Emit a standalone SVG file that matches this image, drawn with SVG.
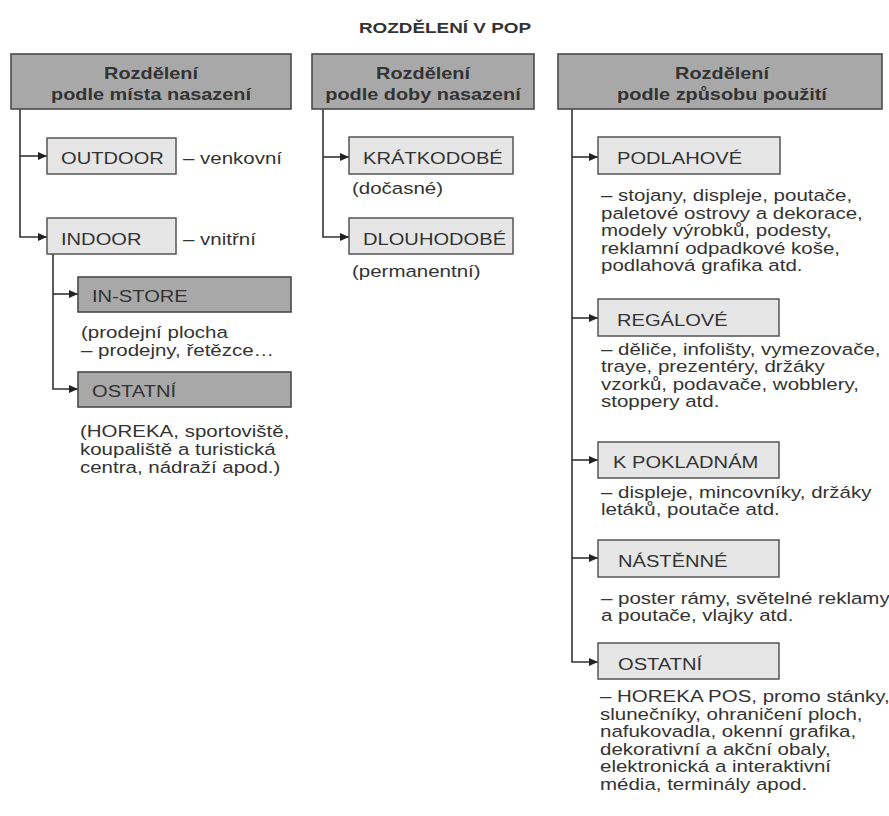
<svg xmlns="http://www.w3.org/2000/svg" width="889" height="816" viewBox="0 0 889 816">
<style>
  text { font-family: "Liberation Sans", Arial, sans-serif; fill: #333; }
  .title { font-size: 15.5px; font-weight: bold; }
  .hdr { font-size: 16.3px; font-weight: bold; }
  .lbl { font-size: 16.5px; }
  .body { font-size: 16.8px; }
  .dark { fill: #a8a8a8; stroke: #4a4a4a; stroke-width: 1.6; }
  .light { fill: #e6e6e6; stroke: #555; stroke-width: 1.5; }
  .conn { fill: none; stroke: #333; stroke-width: 1.6; }
</style>
<defs>
  <marker id="arr" markerUnits="userSpaceOnUse" markerWidth="10" markerHeight="10" refX="9" refY="5" orient="auto">
    <path d="M0,1 L9,5 L0,9 z" fill="#222"/>
  </marker>
</defs>
<rect width="889" height="816" fill="#fff"/>

<text class="title" text-anchor="middle" transform="translate(445,33) scale(1.22,1)">ROZDĚLENÍ V POP</text>

<g id="connectors">
  <path class="conn" d="M20,109 V237 H47" marker-end="url(#arr)"/>
  <path class="conn" d="M20,156 H47" marker-end="url(#arr)"/>
  <path class="conn" d="M53,254 V389 H78" marker-end="url(#arr)"/>
  <path class="conn" d="M53,294 H78" marker-end="url(#arr)"/>
  <path class="conn" d="M323,109 V237 H349" marker-end="url(#arr)"/>
  <path class="conn" d="M323,157 H349" marker-end="url(#arr)"/>
  <path class="conn" d="M572,109 V662 H598" marker-end="url(#arr)"/>
  <path class="conn" d="M572,157 H598" marker-end="url(#arr)"/>
  <path class="conn" d="M572,318 H598" marker-end="url(#arr)"/>
  <path class="conn" d="M572,460 H598" marker-end="url(#arr)"/>
  <path class="conn" d="M572,558 H598" marker-end="url(#arr)"/>
</g>

<g id="hdr-misto">
  <rect class="dark" x="11" y="54" width="280" height="55"/>
  <text class="hdr" text-anchor="middle" transform="translate(151,79) scale(1.22,1)">Rozdělení</text>
  <text class="hdr" text-anchor="middle" transform="translate(151,100) scale(1.22,1)">podle místa nasazení</text>
</g>
<g id="hdr-doba">
  <rect class="dark" x="312" y="54" width="222" height="55"/>
  <text class="hdr" text-anchor="middle" transform="translate(423,79) scale(1.22,1)">Rozdělení</text>
  <text class="hdr" text-anchor="middle" transform="translate(423,100) scale(1.22,1)">podle doby nasazení</text>
</g>
<g id="hdr-zpusob">
  <rect class="dark" x="558" y="54" width="324" height="55"/>
  <text class="hdr" text-anchor="middle" transform="translate(722,79) scale(1.22,1)">Rozdělení</text>
  <text class="hdr" text-anchor="middle" transform="translate(722,100) scale(1.22,1)">podle způsobu použití</text>
</g>

<g id="outdoor">
  <rect class="light" x="47" y="138" width="129" height="36"/>
  <text class="lbl" transform="translate(61,164) scale(1.22,1)">OUTDOOR</text>
  <text class="body" transform="translate(183,164) scale(1.22,1)">– venkovní</text>
</g>
<g id="indoor">
  <rect class="light" x="47" y="218" width="129" height="36"/>
  <text class="lbl" transform="translate(61,245) scale(1.22,1)">INDOOR</text>
  <text class="body" transform="translate(183,245) scale(1.22,1)">– vnitřní</text>
</g>
<g id="instore">
  <rect class="dark" x="78" y="277" width="213" height="35"/>
  <text class="lbl" transform="translate(92,302) scale(1.22,1)">IN-STORE</text>
  <text class="body" transform="translate(81,338) scale(1.22,1)"><tspan x="0" y="0">(prodejní plocha</tspan><tspan x="0" y="18">– prodejny, řetězce…</tspan></text>
</g>
<g id="ostatni-left">
  <rect class="dark" x="78" y="372" width="213" height="35"/>
  <text class="lbl" transform="translate(92,397) scale(1.22,1)">OSTATNÍ</text>
  <text class="body" transform="translate(80,437) scale(1.22,1)"><tspan x="0" y="0">(HOREKA, sportoviště,</tspan><tspan x="0" y="18">koupaliště a turistická</tspan><tspan x="0" y="36">centra, nádraží apod.)</tspan></text>
</g>

<g id="kratkodobe">
  <rect class="light" x="349" y="137" width="164" height="37"/>
  <text class="lbl" transform="translate(363,164) scale(1.22,1)">KRÁTKODOBÉ</text>
  <text class="body" transform="translate(352,194) scale(1.22,1)">(dočasné)</text>
</g>
<g id="dlouhodobe">
  <rect class="light" x="349" y="218" width="164" height="36"/>
  <text class="lbl" transform="translate(363,245) scale(1.22,1)">DLOUHODOBÉ</text>
  <text class="body" transform="translate(352,277) scale(1.22,1)">(permanentní)</text>
</g>

<g id="podlahove">
  <rect class="light" x="598" y="137" width="182" height="37"/>
  <text class="lbl" transform="translate(617,164) scale(1.22,1)">PODLAHOVÉ</text>
  <text class="body" transform="translate(601,201) scale(1.22,1)"><tspan x="0" y="0">– stojany, displeje, poutače,</tspan><tspan x="0" y="17.6">paletové ostrovy a dekorace,</tspan><tspan x="0" y="35.2">modely výrobků, podesty,</tspan><tspan x="0" y="52.8">reklamní odpadkové koše,</tspan><tspan x="0" y="70.4">podlahová grafika atd.</tspan></text>
</g>
<g id="regalove">
  <rect class="light" x="598" y="299" width="181" height="37"/>
  <text class="lbl" transform="translate(617,326) scale(1.22,1)">REGÁLOVÉ</text>
  <text class="body" transform="translate(601,355) scale(1.22,1)"><tspan x="0" y="0">– děliče, infolišty, vymezovače,</tspan><tspan x="0" y="17.5">traye, prezentéry, držáky</tspan><tspan x="0" y="35">vzorků, podavače, wobblery,</tspan><tspan x="0" y="52.5">stoppery atd.</tspan></text>
</g>
<g id="k-pokladnam">
  <rect class="light" x="598" y="442" width="181" height="36"/>
  <text class="lbl" transform="translate(613,468) scale(1.22,1)">K POKLADNÁM</text>
  <text class="body" transform="translate(601,498) scale(1.22,1)"><tspan x="0" y="0">– displeje, mincovníky, držáky</tspan><tspan x="0" y="17.5">letáků, poutače atd.</tspan></text>
</g>
<g id="nastenne">
  <rect class="light" x="598" y="540" width="181" height="37"/>
  <text class="lbl" transform="translate(618,567) scale(1.22,1)">NÁSTĚNNÉ</text>
  <text class="body" transform="translate(601,604) scale(1.22,1)"><tspan x="0" y="0">– poster rámy, světelné reklamy</tspan><tspan x="0" y="17.5">a poutače, vlajky atd.</tspan></text>
</g>
<g id="ostatni-right">
  <rect class="light" x="598" y="643" width="181" height="36"/>
  <text class="lbl" transform="translate(618,670) scale(1.22,1)">OSTATNÍ</text>
  <text class="body" transform="translate(600,702) scale(1.22,1)"><tspan x="0" y="0">– HOREKA POS, promo stánky,</tspan><tspan x="0" y="17.6">slunečníky, ohraničení ploch,</tspan><tspan x="0" y="35.2">nafukovadla, okenní grafika,</tspan><tspan x="0" y="52.8">dekorativní a akční obaly,</tspan><tspan x="0" y="70.4">elektronická a interaktivní</tspan><tspan x="0" y="88">média, terminály apod.</tspan></text>
</g>
</svg>
